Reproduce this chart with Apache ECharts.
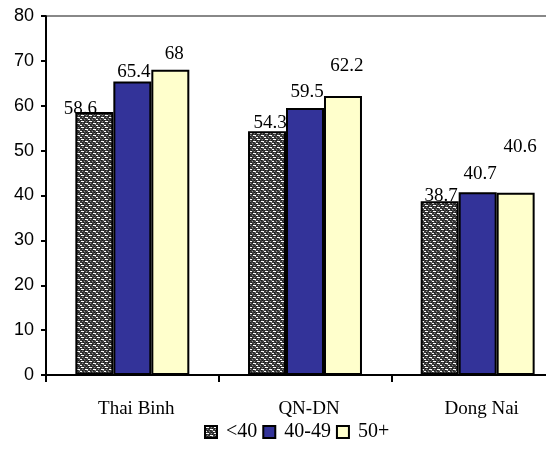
<!DOCTYPE html>
<html>
<head>
<meta charset="utf-8">
<script src="https://cdn.jsdelivr.net/npm/echarts@6/dist/echarts.min.js"></script>
<style>
  html, body { margin: 0; padding: 0; background: #fff; overflow: hidden; }
  #wrap { width: 546px; height: 449px; overflow: hidden; }
  /* plot area runs past the right edge, so the canvas is wider than the view */
  #chart { width: 564px; height: 449px; }
</style>
</head>
<body>
<div id="wrap"><div id="chart"></div></div>
<script>
// Regions and age groups
const regions = ['Thai Binh', 'QN-DN', 'Dong Nai'];
const groupNames = ['<40', '40-49', '50+'];
const under40 = [58.6, 54.3, 38.7];
const from40to49 = [65.4, 59.5, 40.7];
const over50 = [68, 62.2, 40.6];
const yTicks = [0, 10, 20, 30, 40, 50, 60, 70, 80];

// Hand-placed value label nudges [dx, dy] per bar
const labelNudge = [
  [[-14, 6], [3, 1], [1.5, 4]],
  [[1.5, -0.5], [2, -6], [2.5, -9]],
  [[4, -6], [4, -20], [4.5, -36]]
];

// Dark speckled texture for the first series
function makeTexture() {
  const c = document.createElement('canvas');
  c.width = 8; c.height = 6;
  const g = c.getContext('2d');
  g.fillStyle = '#3c3c3c';
  g.fillRect(0, 0, 8, 6);
  g.fillStyle = '#1a1a1a';
  [[0,0],[3,0],[6,0],[1,2],[4,2],[7,2],[2,4],[5,4]].forEach(p => g.fillRect(p[0], p[1], 1, 1));
  g.fillStyle = '#ffffff';
  g.fillRect(1, 1, 3, 1);
  g.fillRect(5, 3, 3, 1);
  g.fillRect(0, 5, 2, 1);
  g.fillStyle = '#8c8c8c';
  [[6,1],[2,3],[4,5],[7,4]].forEach(p => g.fillRect(p[0], p[1], 1, 1));
  return c;
}

const fills = [
  { image: makeTexture(), repeat: 'repeat' },
  '#333399',
  '#FFFFCC'
];
const values = [under40, from40to49, over50];

const chart = echarts.init(document.getElementById('chart'), null, { renderer: 'canvas' });

const series = values.map((vals, si) => ({
  name: groupNames[si],
  type: 'bar',
  barGap: '0%',
  barCategoryGap: '34%',
  itemStyle: { color: fills[si], borderColor: '#000', borderWidth: 2 },
  label: {
    show: true,
    position: 'top',
    distance: 0,
    fontFamily: 'Liberation Serif',
    fontSize: 19,
    lineHeight: 19,
    color: '#000'
  },
  data: vals.map((v, i) => ({
    value: v,
    label: { offset: labelNudge[si][i] }
  }))
}));

chart.setOption({
  animation: false,
  backgroundColor: '#fff',
  grid: { left: 46, top: 16, right: 0, bottom: 74, containLabel: false },
  legend: {
    data: groupNames,
    bottom: 2,
    left: 199,
    itemWidth: 12,
    itemHeight: 12,
    itemGap: 5,
    icon: 'rect',
    textStyle: {
      fontFamily: 'Liberation Serif',
      fontSize: 20,
      color: '#000',
      padding: [0, 0, 0, 4]
    }
  },
  xAxis: {
    type: 'category',
    data: regions,
    axisLine: { lineStyle: { color: '#000', width: 2 } },
    axisTick: { show: true, length: 7, lineStyle: { color: '#000', width: 2 } },
    axisLabel: {
      fontFamily: 'Liberation Serif',
      fontSize: 19,
      color: '#000',
      margin: 25,
      padding: [0, 0, 0, 8]
    }
  },
  yAxis: {
    type: 'value',
    min: yTicks[0],
    max: yTicks[yTicks.length - 1],
    interval: yTicks[1] - yTicks[0],
    axisLine: { show: true, lineStyle: { color: '#000', width: 2 } },
    axisTick: { show: true, length: 5, lineStyle: { color: '#000', width: 2 } },
    axisLabel: {
      fontFamily: 'Liberation Sans',
      fontSize: 18,
      color: '#000',
      margin: 12,
      padding: [6, 0, 0, 0]
    },
    splitLine: { show: false }
  },
  graphic: [{
    type: 'line',
    z: 100,
    shape: { x1: 47, y1: 16, x2: 564, y2: 16 },
    style: { stroke: '#888', lineWidth: 2 }
  }],
  series: series
});
</script>
</body>
</html>
